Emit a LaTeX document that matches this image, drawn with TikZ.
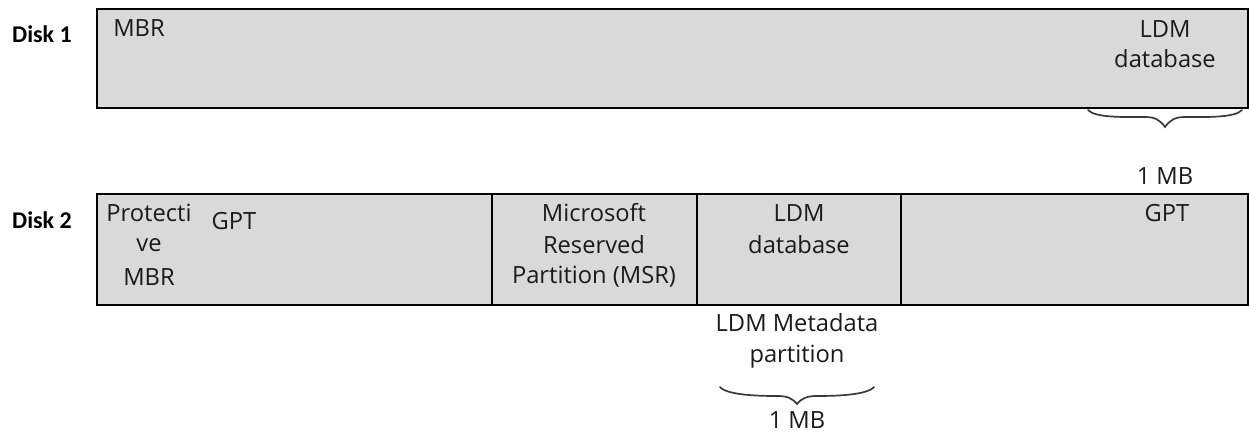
\documentclass[tikz,border=0pt]{standalone}
\usepackage{fontspec}
\setmainfont{Open Sans}
\newfontfamily\boldlab{Carlito}
\definecolor{diskgray}{HTML}{D9D9D9}
\definecolor{labelink}{HTML}{1A1A1A}
\definecolor{bracegray}{HTML}{3A3A3A}
\tikzset{
  lab/.style={font=\fontsize{23.7}{28}\selectfont,text=labelink,align=center,inner sep=0pt,anchor=center},
  disklab/.style={font=\boldlab\bfseries\fontsize{24}{28}\selectfont,text=black,inner sep=0pt,anchor=center},
  bracecurve/.style={draw=bracegray,line width=1.7pt,line cap=round},
  diskrect/.style={draw=black,line width=1.8pt,fill=diskgray},
  divider/.style={draw=black,line width=1.8pt},
}
\begin{document}
\begin{tikzpicture}[x=1pt,y=-1pt]
\useasboundingbox (0,0) rectangle (1249,432);
\coordinate (d1tl) at (97,9);
\coordinate (d1br) at (1248,108);
\coordinate (d2tl) at (97,194);
\coordinate (d2br) at (1248,305);
\draw[diskrect] (d1tl) rectangle (d1br);
\draw[diskrect] (d2tl) rectangle (d2br);
\draw[divider] (492,194) -- (492,305);
\draw[divider] (697,194) -- (697,305);
\draw[divider] (901,194) -- (901,305);
\node[disklab] (disk1) at (42,34) {Disk 1};
\node[disklab] (disk2) at (42,220) {Disk 2};
\node[lab] (mbr) at (139,28) {MBR};
\node[lab] (ldm1) at (1165,29) {LDM};
\node[lab] (db1) at (1165,59) {database};
\node[lab] (mb1) at (1165,176) {1 MB};
\node[lab] (prot) at (149,213) {Protecti};
\node[lab] (ve) at (149,245) {ve};
\node[lab] (pmbr) at (149,277) {MBR};
\node[lab] (gpt1) at (234,221) {GPT};
\node[lab] (ms) at (594,213) {Microsoft};
\node[lab] (res) at (594,245) {Reserved};
\node[lab] (msr) at (594,277) {Partition (MSR)};
\node[lab] (ldm2) at (799,213) {LDM};
\node[lab] (db2) at (799,245) {database};
\node[lab] (gpt2) at (1167,213) {GPT};
\node[lab] (meta) at (797,323) {LDM Metadata};
\node[lab] (part) at (797,357) {partition};
\node[lab] (mb2) at (797,420) {1 MB};
\draw[bracecurve] (1088,110) .. controls (1095,118) and (1125,117) .. (1145,117) .. controls (1155,117) and (1160,120) .. (1165,127) .. controls (1170,120) and (1175,117) .. (1185,117) .. controls (1205,117) and (1235,118) .. (1242,110);
\draw[bracecurve] (720,387) .. controls (727,395) and (757,396) .. (777,396) .. controls (787,396) and (792,398) .. (797,404) .. controls (802,398) and (807,396) .. (817,396) .. controls (837,396) and (867,395) .. (874,387);
\end{tikzpicture}
\end{document}
